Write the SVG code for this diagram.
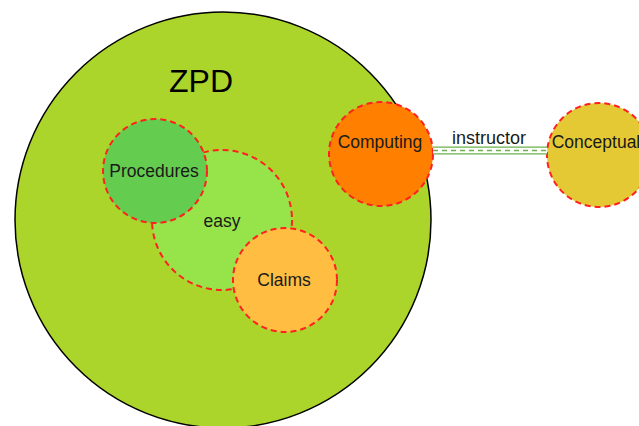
<svg xmlns="http://www.w3.org/2000/svg" width="639" height="426" viewBox="0 0 639 426">
<style>
text{font-family:"Liberation Sans",Arial,sans-serif;fill:#1a1a1a;text-anchor:middle}
.n{stroke:#ff2020;stroke-width:2;stroke-dasharray:6,4}
.t{font-size:17.5px}
</style>
<rect width="639" height="426" fill="#ffffff"/>
<g id="zpd">
<circle cx="223" cy="220" r="208" fill="#abd52b" stroke="#000" stroke-width="1.5"/>
<text x="201" y="92" style="font-size:32px;fill:#000">ZPD</text>
</g>
<g id="easy">
<circle class="n" cx="222" cy="220" r="70" fill="#97e34a"/>
<text class="t" x="222" y="227">easy</text>
</g>
<g id="procedures">
<circle class="n" cx="155" cy="171" r="52" fill="#64cc4e"/>
<text class="t" x="154" y="177">Procedures</text>
</g>
<g id="claims">
<circle class="n" cx="285" cy="280" r="52" fill="#ffbd42"/>
<text class="t" x="284" y="286">Claims</text>
</g>
<g id="computing">
<circle class="n" cx="381" cy="154" r="52" fill="#ff7f00"/>
<text class="t" x="380" y="148">Computing</text>
</g>
<g id="conceptual">
<circle class="n" cx="599" cy="155" r="52" fill="#e4c934"/>
<text class="t" x="596" y="148">Conceptual</text>
</g>
<g id="connectors">
<line x1="433" y1="150.5" x2="547" y2="150.5" stroke="#6ab04c" stroke-width="8"/>
<line x1="433" y1="150.5" x2="547" y2="150.5" stroke="#ffffff" stroke-width="5.5"/>
<line x1="433" y1="150.5" x2="547" y2="150.5" stroke="#6ab04c" stroke-width="1.5" stroke-dasharray="5,4"/>
<text x="489" y="144" style="font-size:18px">instructor</text>
</g>
</svg>
